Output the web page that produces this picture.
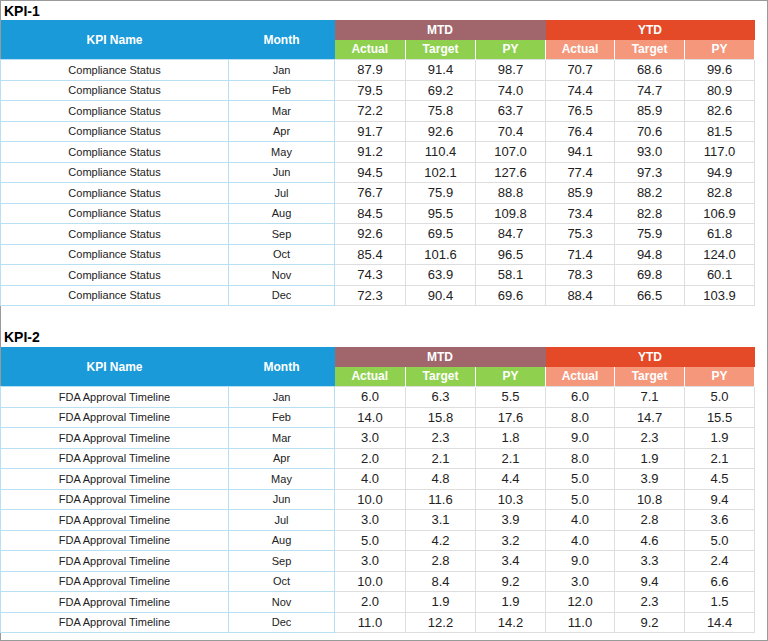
<!DOCTYPE html>
<html><head><meta charset="utf-8">
<script src="https://cdn.jsdelivr.net/npm/chart.js"></script>
<style>
body{margin:0;width:768px;height:641px;background:#fff;font-family:"Liberation Sans",Arial,sans-serif;position:relative;overflow:hidden}
.frame{position:absolute;left:0;top:0;width:766px;height:639px;border:1px solid #9a9a9a}
.title{position:absolute;left:4px;font-weight:bold;font-size:14px}
table{position:absolute;left:0;border-collapse:collapse;table-layout:fixed}
td{padding:0;text-align:center;height:19.5px;font-size:11px}
td.n{font-size:13px;color:#222;border:1px solid #dedede}
td.k{border:1px solid #b9dff2;color:#222}
.hb{background:#1a9ad8;color:#fff;font-weight:bold;font-size:12px;border:none}
.hm{background:#a0666b;color:#fff;font-weight:bold;font-size:12px}
.hy{background:#e54a28;color:#fff;font-weight:bold;font-size:12px}
.sm{background:#8fd14f;color:#fff;font-weight:bold;font-size:12px;border-right:1px solid #fff}
.sy{background:#f4977b;color:#fff;font-weight:bold;font-size:12px;border-right:1px solid #fff}
</style></head><body>
<div class="frame"></div>
<div class="title" style="top:3px">KPI-1</div>
<div class="title" style="top:329px">KPI-2</div>
<table id="t1" style="top:20px"></table>
<table id="t2" style="top:347px"></table>
<script>
const months=["Jan","Feb","Mar","Apr","May","Jun","Jul","Aug","Sep","Oct","Nov","Dec"];
const kpi1Name="Compliance Status";
const kpi1MtdActual=[87.9,79.5,72.2,91.7,91.2,94.5,76.7,84.5,92.6,85.4,74.3,72.3];
const kpi1MtdTarget=[91.4,69.2,75.8,92.6,110.4,102.1,75.9,95.5,69.5,101.6,63.9,90.4];
const kpi1MtdPY=[98.7,74.0,63.7,70.4,107.0,127.6,88.8,109.8,84.7,96.5,58.1,69.6];
const kpi1YtdActual=[70.7,74.4,76.5,76.4,94.1,77.4,85.9,73.4,75.3,71.4,78.3,88.4];
const kpi1YtdTarget=[68.6,74.7,85.9,70.6,93.0,97.3,88.2,82.8,75.9,94.8,69.8,66.5];
const kpi1YtdPY=[99.6,80.9,82.6,81.5,117.0,94.9,82.8,106.9,61.8,124.0,60.1,103.9];
const kpi2Name="FDA Approval Timeline";
const kpi2MtdActual=[6.0,14.0,3.0,2.0,4.0,10.0,3.0,5.0,3.0,10.0,2.0,11.0];
const kpi2MtdTarget=[6.3,15.8,2.3,2.1,4.8,11.6,3.1,4.2,2.8,8.4,1.9,12.2];
const kpi2MtdPY=[5.5,17.6,1.8,2.1,4.4,10.3,3.9,3.2,3.4,9.2,1.9,14.2];
const kpi2YtdActual=[6.0,8.0,9.0,8.0,5.0,5.0,4.0,4.0,9.0,3.0,12.0,11.0];
const kpi2YtdTarget=[7.1,14.7,2.3,1.9,3.9,10.8,2.8,4.6,3.3,9.4,2.3,9.2];
const kpi2YtdPY=[5.0,15.5,1.9,2.1,4.5,9.4,3.6,5.0,2.4,6.6,1.5,14.4];
const widths=[228,106,71,70,70,69,70,70];
function build(id,name,cols){
  const t=document.getElementById(id);
  let h='<colgroup>'+widths.map(w=>`<col style="width:${w}px">`).join('')+'</colgroup>';
  h+='<tr><td class="hb" rowspan="2">KPI Name</td><td class="hb" rowspan="2">Month</td><td class="hm" colspan="3">MTD</td><td class="hy" colspan="3">YTD</td></tr>';
  h+='<tr>'+['Actual','Target','PY'].map(s=>`<td class="sm">${s}</td>`).join('')+['Actual','Target','PY'].map(s=>`<td class="sy">${s}</td>`).join('')+'</tr>';
  months.forEach((m,i)=>{
    h+=`<tr><td class="k">${name}</td><td class="k">${m}</td>`+cols.map(c=>`<td class="n">${c[i].toFixed(1)}</td>`).join('')+'</tr>';
  });
  t.style.width=widths.reduce((a,b)=>a+b)+'px';
  t.innerHTML=h;
}
build('t1',kpi1Name,[kpi1MtdActual,kpi1MtdTarget,kpi1MtdPY,kpi1YtdActual,kpi1YtdTarget,kpi1YtdPY]);
build('t2',kpi2Name,[kpi2MtdActual,kpi2MtdTarget,kpi2MtdPY,kpi2YtdActual,kpi2YtdTarget,kpi2YtdPY]);
</script>
</body></html>
